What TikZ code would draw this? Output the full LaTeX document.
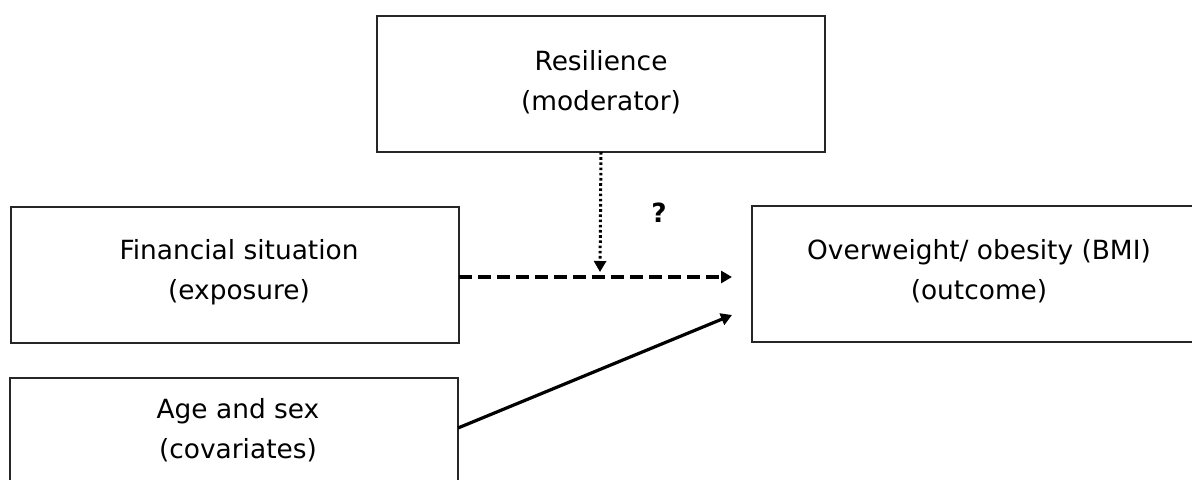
\documentclass[tikz,border=0pt]{standalone}
\usepackage{fontspec}
\setmainfont{DejaVu Sans}
\usetikzlibrary{arrows.meta,positioning}
\begin{document}
\begin{tikzpicture}[x=0.5pt,y=-0.5pt,
  box/.style={draw=black!85,line width=0.75pt,minimum width=224pt,minimum height=68pt,inner sep=0pt,outer sep=0pt,anchor=north west},
  txt/.style={align=center,font=\fontsize{13.2pt}{20pt}\selectfont,inner sep=0pt},
  conn/.style={line width=1.6pt,-{Triangle[length=5.5pt,width=6pt]}},
]
\useasboundingbox (0,0) rectangle (1192,480);
\clip (0,0) rectangle (1192,480);
\fill[white] (0,0) rectangle (1192,480);
% boxes
\node[box] (res) at (377,16) {};
\node[box] (fin) at (11,207) {};
\node[box] (age) at (10,378) {};
\node[box] (out) at (752,206) {};
% texts
\node[txt] (rest) at (601,82) {Resilience\\(moderator)};
\node[txt] (fint) at (239,272) {Financial situation\\(exposure)};
\node[txt] (aget) at (238,430) {Age and sex\\(covariates)};
\node[txt] (outt) at (979,271) {Overweight/ obesity (BMI)\\(outcome)};
\node[font=\fontsize{13.2pt}{16pt}\selectfont\bfseries,inner sep=0pt] (q) at (659,213) {?};
% connectors
\coordinate (s1) at (459,277);
\coordinate (e1) at (732,277);
\coordinate (m) at (600,277);
\coordinate (t2) at (732,315);
\draw[conn,dash pattern=on 6.5pt off 3pt] (s1) -- (e1);
\draw[conn,line width=1.5pt,dash pattern=on 1.3pt off 1.3pt] (res.south) -- ([yshift=2.5pt]m);
\draw[conn] ([yshift=9pt]age.east) -- (t2);
\end{tikzpicture}
\end{document}
